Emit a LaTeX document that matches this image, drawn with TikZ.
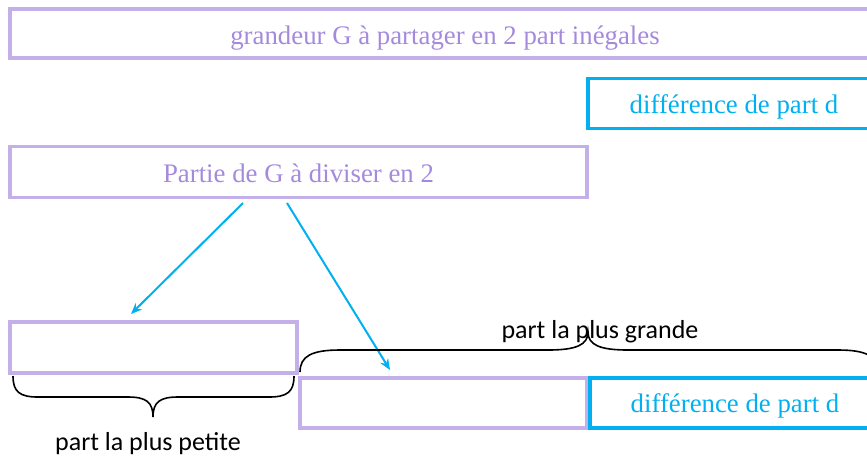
\documentclass[tikz,border=0pt]{standalone}
\usepackage{fontspec}
\setmainfont{Liberation Serif}
\newfontfamily\labelfont{Carlito}
\usetikzlibrary{arrows.meta}
\definecolor{lilac}{HTML}{C3B0E8}
\definecolor{lilactext}{HTML}{A58ADC}
\definecolor{skyblue}{HTML}{00B0F0}
\begin{document}
\begin{tikzpicture}[x=1pt,y=-1pt,
  boxtext/.style={inner sep=0pt, text height=21pt, text depth=0pt,
    font=\fontsize{26.8}{30}\selectfont},
  pbox/.style={boxtext, draw=lilac, line width=3.5pt, text=lilactext},
  dbox/.style={boxtext, draw=skyblue, line width=3.5pt, text=skyblue},
  link/.style={draw=skyblue, line width=2pt, -{Stealth[length=11pt,width=9pt]}},
  brace/.style={draw=black, line width=1.6pt},
  caption/.style={font=\labelfont\fontsize{26}{30}\selectfont, inner sep=0pt, anchor=base}]
\useasboundingbox (0,0) rectangle (867,456);
\clip (0,0) rectangle (867,456);

% whole quantity and the difference
\node[pbox, minimum width=870pt, minimum height=49pt] (whole) at (445,33.5)
  {grandeur G à partager en 2 part inégales};
\node[dbox, minimum width=292pt, minimum height=50pt, text height=19pt] (difftop) at (734,103.5)
  {différence de part d};

% part to be split in two
\node[pbox, minimum width=577pt, minimum height=51pt] (half) at (298.5,172)
  {Partie de G à diviser en 2};

% the two resulting parts
\node[pbox, minimum width=287pt, minimum height=51pt] (small) at (153.5,347.5) {};
\node[pbox, minimum width=287pt, minimum height=50pt] (large) at (443.5,403) {};
\node[dbox, minimum width=290pt, minimum height=50pt, text height=19pt] (diffbot) at (735,403)
  {différence de part d};

% arrows from the split part
\coordinate (s1) at (243,203);
\coordinate (e1) at (131,314);
\coordinate (s2) at (287,203);
\coordinate (e2) at (390,370);
\draw[link] (s1) -- (e1);
\draw[link] (s2) -- (e2);

% brace under the smaller part
\draw[brace] (13,376) .. controls (13,392) and (20,397) .. (38,397)
  -- (128,397) .. controls (146,397) and (153,402) .. (153,417)
  .. controls (153,402) and (160,397) .. (178,397)
  -- (269,397) .. controls (287,397) and (294,392) .. (294,376);
\node[caption] (smalllabel) at (148,450) {part la plus petite};

% brace over the larger part
\draw[brace] (300,372) .. controls (300,356) and (312,350) .. (340,350)
  -- (548,350) .. controls (576,350) and (588,345) .. (588,332)
  .. controls (588,345) and (600,350) .. (628,350)
  -- (838,350) .. controls (866,350) and (878,356) .. (878,372);
\node[caption] (largelabel) at (600,338) {part la plus grande};
\end{tikzpicture}
\end{document}
